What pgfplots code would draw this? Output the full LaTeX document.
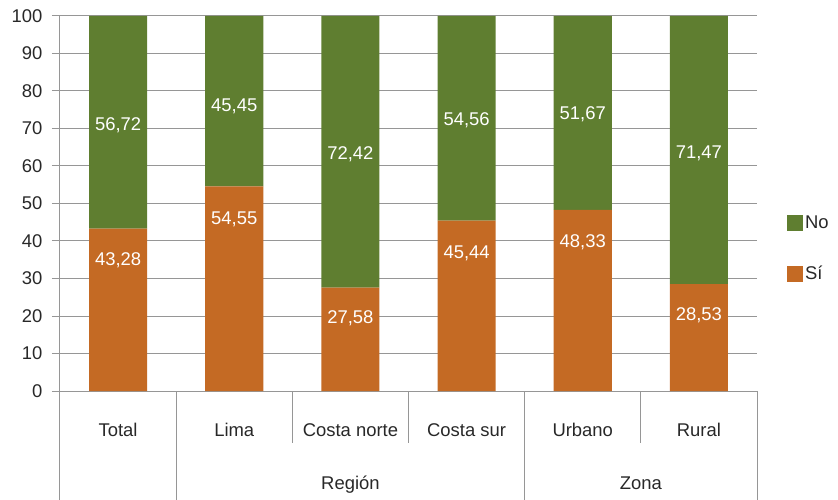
\documentclass[border=0pt]{standalone}
\usepackage{pgfplots}
\pgfplotsset{compat=1.18}
\usepackage{fontspec}
\setmainfont{Liberation Sans}
\definecolor{cno}{RGB}{95,126,48}
\definecolor{csi}{RGB}{196,106,36}
\definecolor{cgrid}{RGB}{150,150,150}
\definecolor{ctext}{RGB}{40,40,40}
\newcommand{\lf}{\fontsize{18.5}{22}\selectfont}
\begin{document}
\begin{tikzpicture}
\pgfplotsset{
  base/.style={
    scale only axis, width=697bp, height=375bp,
    xmin=-0.5, xmax=5.5, ymin=0, ymax=100,
  }
}
\begin{axis}[base,
  ybar stacked, bar width=0.5,
  clip=false,
  axis lines=left, axis line style={-, cgrid, line width=1bp},
  ytick={0,10,...,100},
  ymajorgrids, major grid style={cgrid, line width=1bp},
  ytick style={cgrid, line width=1bp}, tick align=outside, major tick length=8bp,
  xtick=data, xtick style={draw=none},
  xticklabels={Total, Lima, Costa norte, Costa sur, Urbano, Rural},
  x tick label style={anchor=center, yshift=-33bp, font=\lf, text=ctext,
    text height=13.5bp, text depth=4bp},
  y tick label style={font=\lf, text=ctext, xshift=-6bp},
  /pgf/number format/assume math mode=true,
  reverse legend,
  legend style={draw=none, fill=none, at={(1.043,0.472)}, anchor=north west,
    inner sep=0pt, row sep=32bp, font=\lf, text=ctext,
    nodes={inner sep=2bp}},
  legend cell align=left,
  legend image code/.code={\fill[#1] (0bp,-8bp) rectangle (16bp,8bp);},
]
\addplot[fill=csi, draw=none] coordinates {(0,43.28) (1,54.55) (2,27.58) (3,45.44) (4,48.33) (5,28.53)};
\addlegendentry{Sí}
\addplot[fill=cno, draw=none] coordinates {(0,56.72) (1,45.45) (2,72.42) (3,54.56) (4,51.67) (5,71.47)};
\addlegendentry{No}
% table lines below axis
\draw[cgrid, line width=1bp] (axis cs:-0.5,0) -- (axis cs:-0.5,-29.1);
\draw[cgrid, line width=1bp] (axis cs:0.5,0) -- (axis cs:0.5,-29.1);
\draw[cgrid, line width=1bp] (axis cs:1.5,0) -- (axis cs:1.5,-13.9);
\draw[cgrid, line width=1bp] (axis cs:2.5,0) -- (axis cs:2.5,-13.9);
\draw[cgrid, line width=1bp] (axis cs:3.5,0) -- (axis cs:3.5,-29.1);
\draw[cgrid, line width=1bp] (axis cs:4.5,0) -- (axis cs:4.5,-13.9);
\draw[cgrid, line width=1bp] (axis cs:5.5,0) -- (axis cs:5.5,-29.1);
\node[font=\lf, text=ctext, anchor=base] at (axis cs:2,-26.3) {Región};
\node[font=\lf, text=ctext, anchor=base] at (axis cs:4.5,-26.3) {Zona};
\end{axis}
\begin{axis}[base, hide axis]
\addplot[draw=none, mark=none, nodes near coords, point meta=explicit symbolic,
  nodes near coords align=center,
  every node near coord/.append style={text=white, font=\lf, anchor=center}]
  table[meta=lab] {
x y lab
0 70.9 56,72
0 34.9 43,28
1 76.0 45,45
1 45.8 54,55
2 63.1 72,42
2 19.4 27,58
3 72.2 54,56
3 36.7 45,44
4 73.8 51,67
4 39.8 48,33
5 63.4 71,47
5 20.3 28,53
};
\end{axis}
\pgfresetboundingbox
\path (-60bp,-109bp) rectangle (778bp,391bp);
\end{tikzpicture}
\end{document}
